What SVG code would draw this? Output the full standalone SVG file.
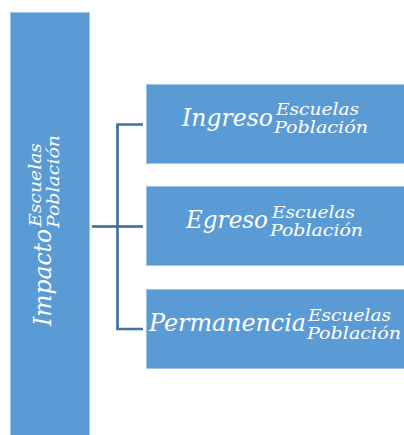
<svg xmlns="http://www.w3.org/2000/svg" width="404" height="435" viewBox="0 0 404 435">
<style>
.box{fill:#5B9BD5;stroke:#9DC3E6;stroke-width:1}
.t{font-family:"DejaVu Serif","Liberation Serif",serif;font-style:italic;fill:#FFFFFF}
.m{font-size:23.5px}
.s{font-size:16.5px}
.c{fill:none;stroke:#41719C;stroke-width:2.7}
</style>
<rect width="404" height="435" fill="#FFFFFF"/>
<g id="connectors">
<path class="c" d="M92 226.5H117.5"/>
<path class="c" d="M143 124.5H117.5V329H143"/>
<path class="c" d="M117.5 226.5H143"/>
</g>
<g id="impacto">
<rect class="box" x="10.5" y="12.5" width="79" height="424"/>
<g transform="translate(51,326) rotate(-90)">
<text class="t m" x="0" y="0" textLength="97" lengthAdjust="spacingAndGlyphs">Impacto</text>
<text class="t s" x="99" y="-10" textLength="84" lengthAdjust="spacingAndGlyphs">Escuelas</text>
<text class="t s" x="98" y="8" textLength="93" lengthAdjust="spacingAndGlyphs">Población</text>
</g>
</g>
<g id="ingreso">
<rect class="box" x="146.5" y="84.5" width="260" height="79"/>
<text class="t m" x="182" y="126" textLength="91" lengthAdjust="spacingAndGlyphs">Ingreso</text>
<text class="t s" x="276" y="115" textLength="83" lengthAdjust="spacingAndGlyphs">Escuelas</text>
<text class="t s" x="274" y="133" textLength="94" lengthAdjust="spacingAndGlyphs">Población</text>
</g>
<g id="egreso">
<rect class="box" x="146.5" y="186.5" width="260" height="79"/>
<text class="t m" x="186" y="228" textLength="82" lengthAdjust="spacingAndGlyphs">Egreso</text>
<text class="t s" x="272" y="218" textLength="83" lengthAdjust="spacingAndGlyphs">Escuelas</text>
<text class="t s" x="270" y="236" textLength="93" lengthAdjust="spacingAndGlyphs">Población</text>
</g>
<g id="permanencia">
<rect class="box" x="146.5" y="289.5" width="260" height="79"/>
<text class="t m" x="149" y="331" textLength="157" lengthAdjust="spacingAndGlyphs">Permanencia</text>
<text class="t s" x="308" y="321" textLength="83" lengthAdjust="spacingAndGlyphs">Escuelas</text>
<text class="t s" x="307" y="339" textLength="94" lengthAdjust="spacingAndGlyphs">Población</text>
</g>
</svg>
